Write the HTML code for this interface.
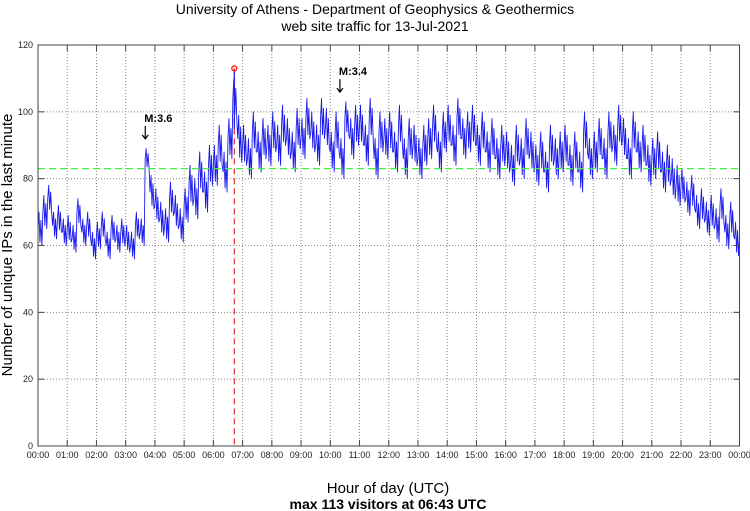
<!DOCTYPE html>
<html><head><meta charset="utf-8"><style>
body{margin:0;background:#fff;}
svg{display:block;font-family:"Liberation Sans",sans-serif;}
</style></head><body>
<svg id="chart" width="750" height="511" viewBox="0 0 750 511">
<text x="375" y="14" text-anchor="middle" font-size="14">University of Athens - Department of Geophysics &amp; Geothermics</text>
<text x="375" y="31" text-anchor="middle" font-size="14">web site traffic for 13-Jul-2021</text>
<text transform="translate(12,245) rotate(-90)" text-anchor="middle" font-size="15">Number of unique IPs in the last minute</text>
<text x="388" y="493" text-anchor="middle" font-size="15">Hour of day (UTC)</text>
<text x="388" y="509" text-anchor="middle" font-size="14" font-weight="bold">max 113 visitors at 06:43 UTC</text>
<g id="grid"></g><g id="marks"></g><g id="axes"></g>
</svg>
<script>
const hours=["00:00","01:00","02:00","03:00","04:00","05:00","06:00","07:00","08:00","09:00","10:00","11:00","12:00","13:00","14:00","15:00","16:00","17:00","18:00","19:00","20:00","21:00","22:00","23:00","00:00"];
const yTicks=[0,20,40,60,80,100,120];
// 10-minute bucket values (visitors)
const values=[65,70,74,66,68,64, 65,62,70,64,66,60, 63,66,60,65,62,64, 62,60,66,64,86,76,
72,68,66,74,70,66, 72,78,74,82,76,84, 84,90,82,92,104,92, 90,86,94,88,92,90,
94,90,96,92,88,95, 92,98,94,90,98,95, 88,94,86,98,92,96, 96,90,98,86,94,92,
94,88,96,86,92,90, 86,90,92,96,88,94, 96,90,98,92,94,96, 90,94,88,92,86,90,
88,84,90,86,92,88, 84,88,82,90,86,88, 90,84,88,82,94,86, 88,92,86,94,90,96,
92,86,94,88,90,84, 86,88,82,84,80,78, 78,74,76,70,72,68, 70,66,72,64,68,62];
// per-bucket spread (half-range of minute noise)
const spread=[5,5,4,4,4,4, 4,4,4,4,4,4, 4,4,4,4,4,4, 4,4,4,4,3,5, 5,5,5,5,5,5, 5,6,6,6,6,6, 6,6,6,6,6,7, 6,6,6,6,6,6,
6,6,6,6,6,6, 6,6,6,6,6,6, 6,6,6,5,6,6, 6,6,6,6,6,6, 6,6,6,6,6,6, 6,6,6,6,6,6, 6,6,6,6,6,6, 6,6,6,6,6,6,
6,6,6,6,6,6, 6,6,6,6,6,6, 6,6,6,6,6,6, 6,6,6,6,6,6, 6,6,6,6,6,6, 6,6,6,6,6,6, 5,5,5,5,5,5, 5,5,5,5,5,5];
const threshold=[83];
const maxPoint=[6+43/60,113];
const quakes=[{label:"M:3.6",h:3.67,v:91},{label:"M:3.4",h:10.33,v:105}];
const L=38,R=739.5,T=45,B=446;
const xS=h=>L+(R-L)*h/24, yS=v=>B-(B-T)*v/120;
const NS="http://www.w3.org/2000/svg";
function mk(t,a,p){const e=document.createElementNS(NS,t);for(const k in a)e.setAttribute(k,a[k]);p.appendChild(e);return e;}
const grid=document.getElementById('grid'),marks=document.getElementById('marks'),axes=document.getElementById('axes');
hours.forEach((lab,i)=>{const x=xS(i);
 if(i>0&&i<24){const g=mk('line',{x1:x,x2:x,y1:T,y2:B,stroke:'#888','stroke-dasharray':'1,2','stroke-width':1},grid);}
 mk('line',{x1:x,x2:x,y1:B,y2:B-6,stroke:'#444'},axes);mk('line',{x1:x,x2:x,y1:T,y2:T+6,stroke:'#444'},axes);
 const t=mk('text',{x:x,y:458,'text-anchor':'middle','font-size':9,fill:'#222'},axes);t.textContent=lab;
 });
yTicks.forEach(v=>{const y=yS(v);
 if(v>0&&v<120){const g=mk('line',{x1:L,x2:R,y1:y,y2:y,stroke:'#888','stroke-dasharray':'1,2'},grid);}
 mk('line',{x1:L,x2:L+6,y1:y,y2:y,stroke:'#444'},axes);mk('line',{x1:R,x2:R-6,y1:y,y2:y,stroke:'#444'},axes);
 const t=mk('text',{x:L-5,y:y+3,'text-anchor':'end','font-size':9,fill:'#222'},axes);t.textContent=v;
 });
const frame=mk('rect',{x:L,y:T,width:R-L,height:B-T,fill:'none',stroke:'#444'},axes);

const off=[0,1,-0.8,0.5,-1];
let pts=[];
values.forEach((v,i)=>{const s=spread[i];for(let k=0;k<5;k++){const h=(i*10+k*2)/60;pts.push(xS(h).toFixed(2)+','+yS(v+s*off[k]).toFixed(2));}});
pts.push(xS(24)+','+yS(values[values.length-1]));
const line=mk('polyline',{points:pts.join(' '),fill:'none',stroke:'#1a1aee','stroke-width':0.9,'stroke-linejoin':'round'},marks);

const th=mk('line',{x1:L,x2:R,y1:yS(threshold[0]),y2:yS(threshold[0]),stroke:'#44ee44','stroke-dasharray':'7,4','stroke-width':1.2},marks);

const mv=mk('line',{x1:xS(maxPoint[0]),x2:xS(maxPoint[0]),y1:yS(maxPoint[1]),y2:B,stroke:'#e03030','stroke-dasharray':'6,4','stroke-width':1.2},marks);

mk('line',{x1:xS(maxPoint[0]),x2:xS(maxPoint[0]),y1:yS(maxPoint[1]-1),y2:yS(95),stroke:'#1a1aee','stroke-width':1.2},marks);
const mc=mk('circle',{cx:xS(maxPoint[0]),cy:yS(maxPoint[1]),r:2.5,fill:'none',stroke:'red','stroke-width':1.2},marks);

quakes.forEach(q=>{const x=xS(q.h),y=yS(q.v);
 const a=mk('path',{d:`M${x},${y-16} L${x},${y-3} M${x-3},${y-7} L${x},${y-3} L${x+3},${y-7}`,stroke:'#000',fill:'none','stroke-width':1.2},marks);
 
 const t=mk('text',{x:x-1,y:y-20,'font-size':11,'font-weight':'bold'},marks);t.textContent=q.label;
 });
</script>
</body></html>
